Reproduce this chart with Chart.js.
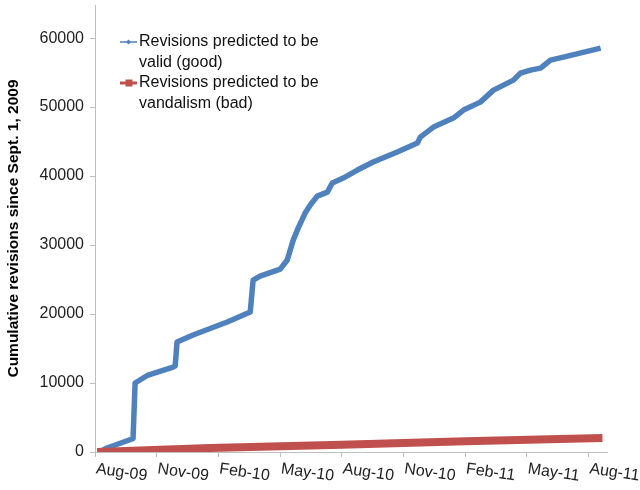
<!DOCTYPE html>
<html><head><meta charset="utf-8">
<script src="https://cdn.jsdelivr.net/npm/chart.js@4"></script>
<style>html,body{margin:0;padding:0;background:#fff}#wrap{width:640px;height:490px}</style>
</head><body><div id="wrap"><canvas id="c" width="640" height="490"></canvas></div>
<script>
// x values are months since Aug 1, 2009
const xTickLabels = ['Aug-09','Nov-09','Feb-10','May-10','Aug-10','Nov-10','Feb-11','May-11','Aug-11'];
const yTickStep = 10000;
const seriesLabels = [['Revisions predicted to be','valid (good)'], ['Revisions predicted to be','vandalism (bad)']];
const goodMonths = [0.24,0.58,1.80,1.85,1.95,2.58,3.80,3.90,3.99,4.77,6.43,7.55,7.69,8.03,9.01,9.35,9.64,9.88,10.22,10.47,10.81,11.30,11.54,12.07,12.76,13.53,14.70,15.68,15.82,16.46,17.43,17.92,18.74,19.38,20.35,20.69,21.18,21.67,22.15,22.78,24.59];
const goodValues = [0,580,1880,1950,10000,11160,12320,12500,15940,16960,18840,20290,24930,25510,26520,27830,30720,32460,34640,35800,37100,37680,38990,39710,40870,42030,43480,44780,45650,47100,48410,49570,50720,52460,53910,54930,55360,55650,56810,57250,58550];
const badMonths = [0.1,5.6,12.0,18.0,24.68];
const badValues = [0,580,1050,1550,2030];

const FONT = '"Liberation Sans", Arial, sans-serif';
const BLUE = '#4f81bd', RED = '#c0504d', AXIS = '#bfbfbf';

const pts = (xs, ys) => xs.map((x, i) => ({x, y: ys[i]}));

const xLabelPlugin = {
  id: 'xLabels',
  afterDraw(chart) {
    const ctx = chart.ctx, xs = chart.scales.x;
    ctx.save();
    ctx.font = '16px ' + FONT;
    ctx.fillStyle = '#222';
    ctx.textAlign = 'left';
    ctx.textBaseline = 'middle';
    xs.ticks.forEach((t, i) => {
      const px = xs.getPixelForValue(t.value);
      ctx.save();
      ctx.translate(px + 1, 469);
      ctx.rotate(8 * Math.PI / 180);
      ctx.fillText(xTickLabels[i] || '', 0, 0);
      ctx.restore();
    });
    ctx.restore();
  }
};

const legendPlugin = {
  id: 'insideLegend',
  afterDraw(chart) {
    const ctx = chart.ctx;
    const rows = [42, 83];
    ctx.save();
    ctx.font = '16px ' + FONT;
    ctx.textAlign = 'left';
    ctx.textBaseline = 'middle';
    chart.data.datasets.forEach((ds, i) => {
      const y = rows[i];
      ctx.strokeStyle = ds.borderColor;
      ctx.fillStyle = ds.borderColor;
      ctx.lineWidth = i === 0 ? 1.5 : 3;
      ctx.beginPath(); ctx.moveTo(120, y); ctx.lineTo(137, y); ctx.stroke();
      if (i === 0) {
        ctx.beginPath(); ctx.moveTo(128.5, y - 2.5); ctx.lineTo(131, y); ctx.lineTo(128.5, y + 2.5); ctx.lineTo(126, y); ctx.closePath(); ctx.fill();
      } else {
        ctx.fillRect(125.5, y - 3.5, 7, 7);
      }
      ctx.fillStyle = '#111';
      ds.label.forEach((line, k) => ctx.fillText(line, 139, y + k * 20.5));
    });
    ctx.restore();
  }
};

new Chart(document.getElementById('c'), {
  type: 'line',
  data: {
    datasets: [
      {label: seriesLabels[0], data: pts(goodMonths, goodValues), borderColor: BLUE, backgroundColor: BLUE, borderWidth: 5.5, pointRadius: 0, tension: 0, order: 1, borderJoinStyle: 'round'},
      {label: seriesLabels[1], data: pts(badMonths, badValues), borderColor: RED, backgroundColor: RED, borderWidth: 8, pointRadius: 0, tension: 0, order: 0}
    ]
  },
  options: {
    responsive: false,
    animation: false,
    devicePixelRatio: 1,
    layout: {padding: {top: 5, right: 33, bottom: 0, left: 0}},
    plugins: {legend: {display: false}, tooltip: {enabled: false}},
    scales: {
      x: {
        type: 'linear', min: 0, max: 24.9,
        ticks: {display: false, stepSize: 3, includeBounds: false, autoSkip: false},
        grid: {display: true, drawOnChartArea: false, drawTicks: true, tickLength: 5, color: AXIS},
        border: {display: true, color: AXIS, width: 1},
        afterFit(s) { s.height = 38; s.paddingLeft = 0; s.paddingRight = 0; }
      },
      y: {
        min: 0, max: 64800,
        ticks: {includeBounds: false, autoSkip: false, padding: 6, color: '#222', font: {family: FONT, size: 16}, callback: v => String(v)},
        grid: {display: true, drawOnChartArea: false, drawTicks: true, tickLength: 5, color: AXIS},
        border: {display: true, color: AXIS, width: 1},
        title: {display: true, text: 'Cumulative revisions since Sept. 1, 2009', color: '#000', font: {family: FONT, size: 15.5, weight: 'bold'}, padding: {top: 4, bottom: 0}},
        afterBuildTicks(s) { s.ticks = s.ticks.filter(t => t.value % yTickStep === 0); },
        afterFit(s) { s.width = 95; s.paddingTop = 0; s.paddingBottom = 0; }
      }
    }
  },
  plugins: [xLabelPlugin, legendPlugin]
});
</script></body></html>
